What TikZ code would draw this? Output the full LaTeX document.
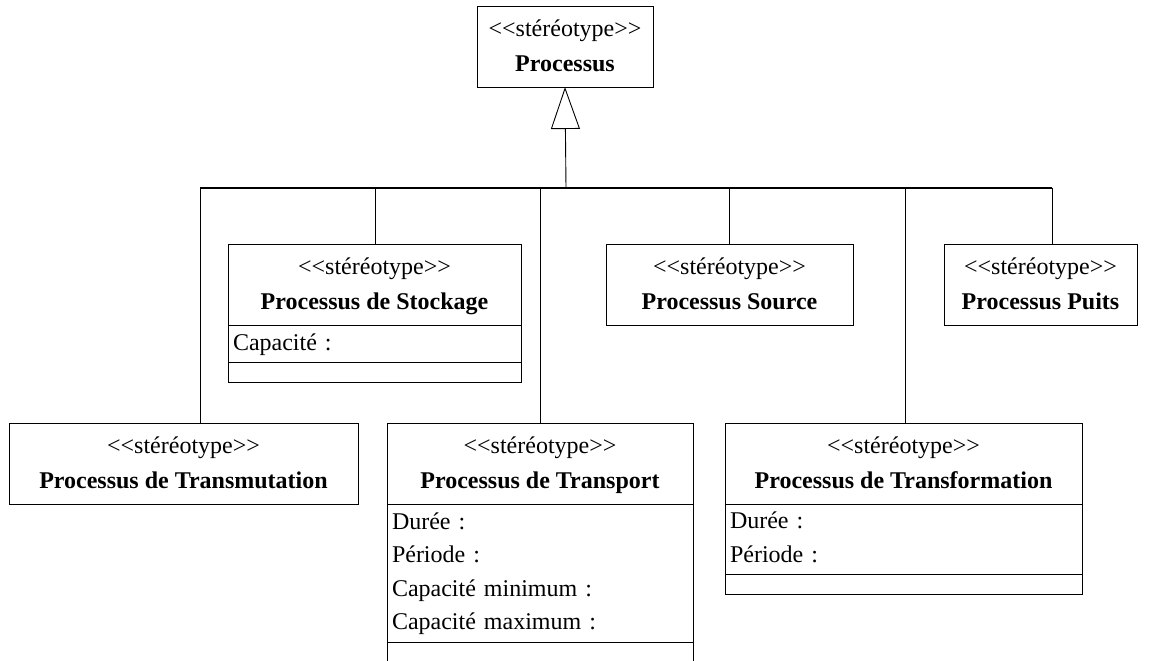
\documentclass[tikz,border=0pt]{standalone}
\usepackage{fontspec}
\setmainfont{Liberation Serif}
\usetikzlibrary{positioning, arrows.meta}

\begin{document}
\begin{tikzpicture}[x=1pt, y=-1pt,
    entete/.style={draw, line width=0.9pt, anchor=north west, inner sep=0pt, outer sep=0pt,
      align=center, minimum height=81pt, font=\fontsize{24}{35}\selectfont},
    attributs/.style={draw, line width=0.9pt, anchor=north west, inner xsep=5pt, inner ysep=0pt,
      outer sep=0pt, align=left, font=\fontsize{24}{33.5}\selectfont},
    operations/.style={draw, line width=0.9pt, anchor=north west, inner sep=0pt, outer sep=0pt,
      minimum height=20pt},
    lien/.style={line width=0.9pt}]
    \useasboundingbox (0,0) rectangle (1154,661);

    % classe mere
    \node[entete, minimum width=176pt] (proc) at (477,6)
      {\strut<{}<stéréotype>{}>\\\strut\textbf{Processus}};

    % deuxieme rangee
    \node[entete, minimum width=293pt] (stock) at (228,244)
      {\strut<{}<stéréotype>{}>\\\strut\textbf{Processus de Stockage}};
    \node[attributs, text width=283pt, minimum height=37pt] (stockattr) at (stock.south west)
      {\strut Capacité :};
    \node[operations, minimum width=293pt] (stockop) at (stockattr.south west) {};

    \node[entete, minimum width=247pt] (src) at (606,244)
      {\strut<{}<stéréotype>{}>\\\strut\textbf{Processus Source}};
    \node[entete, minimum width=193pt] (puits) at (944,244)
      {\strut<{}<stéréotype>{}>\\\strut\textbf{Processus Puits}};

    % troisieme rangee
    \node[entete, minimum width=349pt] (trm) at (9,423)
      {\strut<{}<stéréotype>{}>\\\strut\textbf{Processus de Transmutation}};

    \node[entete, minimum width=306pt] (trsp) at (387,423)
      {\strut<{}<stéréotype>{}>\\\strut\textbf{Processus de Transport}};
    \node[attributs, text width=296pt, minimum height=138pt] (trspattr) at (trsp.south west)
      {\strut Durée :\\\strut Période :\\\strut Capacité minimum :\\\strut Capacité maximum :};
    \node[operations, minimum width=306pt] (trspop) at (trspattr.south west) {};

    \node[entete, minimum width=357pt] (trf) at (725,423)
      {\strut<{}<stéréotype>{}>\\\strut\textbf{Processus de Transformation}};
    \node[attributs, text width=347pt, minimum height=70pt] (trfattr) at (trf.south west)
      {\strut Durée :\\\strut Période :};
    \node[operations, minimum width=357pt] (trfop) at (trfattr.south west) {};

    % heritage
    \coordinate (bus) at (566,188);
    \draw[lien, -{Triangle[open, length=42pt, width=29pt]}] (bus) -- (proc.south);
    \foreach \x/\n in {200/trm, 375/stock, 540/trsp, 729/src, 905/trf, 1052/puits} {
      \coordinate (j\n) at (\x,188);
      \draw[lien] (j\n) -- (j\n |- \n.north);
    }
    \draw[line width=1.6pt] (jtrm) -- (jpuits);
\end{tikzpicture}
\end{document}
